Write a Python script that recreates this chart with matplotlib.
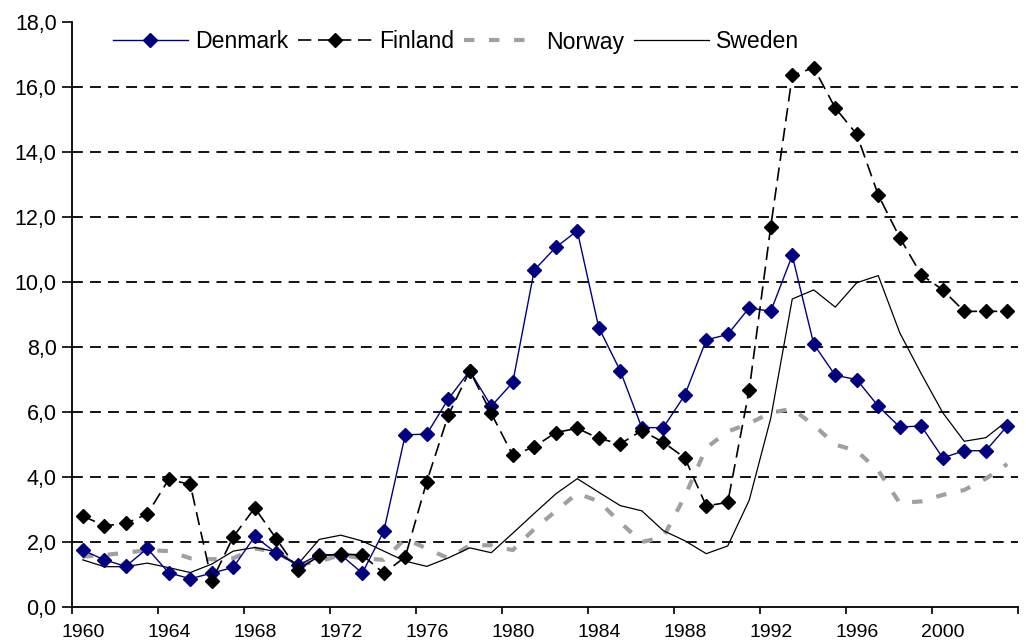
import numpy as np
import matplotlib
matplotlib.use('Agg')
import matplotlib.pyplot as plt

plt.rcParams['font.family'] = ['Liberation Sans', 'DejaVu Sans']

# Data
years = list(range(1960, 2004))

denmark = [1.75, 1.45, 1.25, 1.8, 1.05, 0.87, 1.04, 1.22, 2.17, 1.66,
           1.28, 1.61, 1.61, 1.04, 2.33, 5.3, 5.32, 6.4, 7.27, 6.18,
           6.91, 10.37, 11.07, 11.58, 8.6, 7.27, 5.52, 5.52, 6.52, 8.22,
           8.39, 9.21, 9.1, 10.82, 8.09, 7.13, 7.0, 6.18, 5.54, 5.57,
           4.59, 4.81, 4.81, 5.57]

finland = [2.8, 2.5, 2.57, 2.86, 3.93, 3.77, 0.8, 2.16, 3.05, 2.1,
           1.15, 1.57, 1.63, 1.6, 1.04, 1.54, 3.86, 5.9, 7.27, 5.96,
           4.67, 4.93, 5.37, 5.5, 5.19, 5.02, 5.43, 5.07, 4.59, 3.11,
           3.22, 6.69, 11.71, 16.36, 16.6, 15.36, 14.55, 12.68, 11.37, 10.23,
           9.76, 9.1, 9.1, 9.1]

norway = [1.55, 1.6, 1.67, 1.75, 1.72, 1.5, 1.47, 1.5, 1.8, 1.7,
          1.3, 1.4, 1.6, 1.5, 1.45, 2.1, 1.8, 1.5, 1.9, 1.9,
          1.75, 2.4, 2.95, 3.5, 3.25, 2.6, 2.0, 2.15, 3.4, 4.9,
          5.4, 5.65, 5.98, 6.1, 5.6, 5.0, 4.8, 4.2, 3.2, 3.25,
          3.45, 3.6, 3.95, 4.4]

sweden = [1.45, 1.24, 1.24, 1.35, 1.21, 1.06, 1.32, 1.72, 1.83, 1.7,
          1.31, 2.08, 2.21, 2.03, 1.72, 1.41, 1.25, 1.51, 1.82, 1.67,
          2.27, 2.88, 3.48, 3.95, 3.53, 3.12, 2.96, 2.35, 2.04, 1.64,
          1.88, 3.29, 5.81, 9.48, 9.76, 9.23, 9.98, 10.2, 8.44, 7.18,
          5.98, 5.1, 5.21, 5.73]

yticks = [0, 2, 4, 6, 8, 10, 12, 14, 16, 18]
xlabel_years = list(range(1960, 2004, 4))

fig = plt.figure(figsize=(10.26, 6.44), dpi=100)
ax = fig.add_axes([0.0702, 0.0575, 0.922, 0.908])

# dashed horizontal grid
for v in yticks[1:-1]:
    ax.axhline(v, color='black', lw=1.3, ls=(0, (6, 4)), zorder=1)

ax.plot(years, denmark, color='#000080', lw=1.0, marker='D', markersize=7,
        label='Denmark', zorder=4)
ax.plot(years, finland, color='black', lw=1.2, ls=(0, (8, 4)), marker='D',
        markersize=7, label='Finland', zorder=5)
ax.plot(years, norway, color='#a0a0a0', lw=3.0, ls=(0, (2.5, 3.5)),
        label='Norway', zorder=3)
ax.plot(years, sweden, color='black', lw=0.9, label='Sweden', zorder=3)

ax.set_xlim(1959.5, 2003.5)
ax.set_ylim(0, 18)

ax.set_yticks(yticks)
ax.set_yticklabels([f"{v:.1f}".replace('.', ',') for v in yticks], fontsize=15.5)
ax.tick_params(axis='y', direction='out', length=7, width=1.2, pad=4)

# labels centred on categories, tick marks between categories
ax.set_xticks(xlabel_years)
ax.set_xticklabels([str(y) for y in xlabel_years], fontsize=14)
ax.tick_params(axis='x', which='major', length=0, pad=12)
ax.set_xticks([y - 0.5 for y in xlabel_years] + [2003.5], minor=True)
ax.tick_params(axis='x', which='minor', direction='out', length=5, width=1.2)

for side in ['top', 'right']:
    ax.spines[side].set_visible(False)
for side in ['left', 'bottom']:
    ax.spines[side].set_linewidth(1.3)

leg = fig.legend(loc='center left', bbox_to_anchor=(113 / 1026, 1 - 42 / 644),
                 ncol=4, frameon=False, fontsize=16.6, handlelength=3.25,
                 handletextpad=0.3, columnspacing=0.42, borderpad=0,
                 borderaxespad=0)

fig.savefig('out.png', dpi=100)
